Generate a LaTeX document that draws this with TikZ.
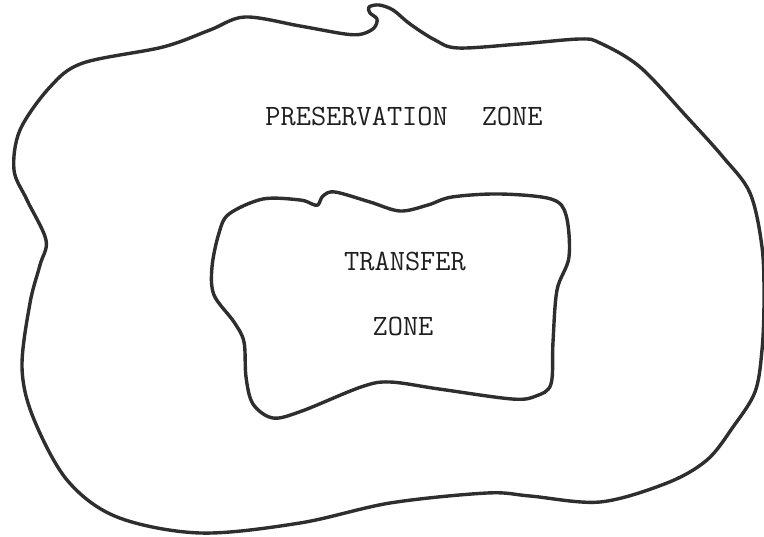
\documentclass[tikz,border=0pt]{standalone}
\usepackage{fontspec}
\tikzset{
  zoneline/.style={line width=3.4pt, draw=black!82, line join=round},
  zonetext/.style={font=\ttfamily\fontsize{29.5}{32}\selectfont, text=black!88, inner sep=0pt}
}
\begin{document}
\begin{tikzpicture}[x=1pt,y=-1pt]
\useasboundingbox (0,0) rectangle (764,537);
% outer boundary
\draw[zoneline] plot[smooth cycle, tension=0.55] coordinates {
(210,30) (245,17) (300,26) (345,34) (362,34) (374,28) (377,19) (370,13) (369,7) (379,5) (393,10) (410,24) (435,40) (458,48) (520,44) (580,39) (600,43) (640,67) (687,117) (723,157) (750,193) (762,247) (764,300) (762,350) (755,392) (733,427) (707,460) (667,483) (600,502) (530,496) (487,493) (390,503) (300,523) (200,533) (117,517) (67,480) (33,417) (22,367) (30,303) (40,265) (46,240) (27,200) (14,170) (20,130) (50,87) (83,63) (163,47)};
% inner boundary
\draw[zoneline] plot[smooth cycle, tension=0.55] coordinates {
(229,214) (263,199) (300,200) (312,204) (318,205) (323,196) (335,192) (370,202) (400,211) (428,205) (452,197) (500,194) (551,199) (566,215) (569,257) (557,290) (553,342) (551,384) (536,396) (512,399) (439,389) (390,382) (361,387) (302,411) (273,418) (253,404) (246,377) (244,342) (234,322) (214,295) (212,267) (219,233)};
\node[zonetext] (pres) at (404,116) {PRESERVATION\hspace{34pt}ZONE};
\node[zonetext] (transfer) at (405,261) {TRANSFER};
\node[zonetext] (tzone) at (403,326) {ZONE};
\end{tikzpicture}
\end{document}
